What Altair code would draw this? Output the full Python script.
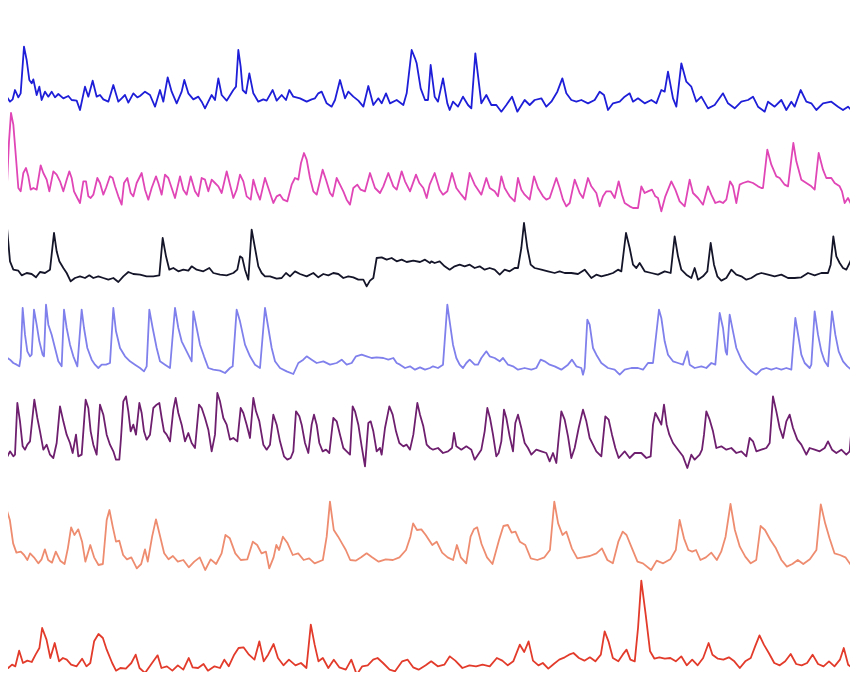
import altair as alt
import pandas as pd

# Seven fluorescence traces: (time in frames, signal above the trace's baseline)
cell1 = [(0,0),(10,25),(20,10),(30,-5),(38,2),(45,30),(55,8),(62,20),(72,160),(80,120),(88,60),(95,50),(100,62),(110,15),(118,40),(125,0),(135,25),(145,10),(155,25),(165,8),(175,18),(190,5),(205,12),(215,0),(230,-2),(240,-30),(255,40),(265,10),(278,58),(290,10),(300,15),(310,2),(325,-5),(340,45),(355,-5),(365,5),(375,15),(385,-8),(400,20),(412,8),(420,12),(435,25),(450,15),(465,-20),(480,30),(490,-5),(503,68),(515,25),(530,-10),(545,25),(553,60),(565,20),(580,2),(595,10),(605,-5),(615,-25),(625,-5),(635,15),(645,0),(655,65),(665,15),(680,-2),(700,30),(708,40),(715,150),(722,100),(728,30),(738,20),(748,80),(760,20),(775,-5),(790,2),(800,-2),(818,30),(830,-2),(845,15),(858,0),(868,30),(880,10),(900,5),(920,-5),(935,2),(945,5),(955,20),(965,25),(980,-10),(995,-20),(1005,0),(1020,60),(1035,5),(1045,25),(1060,10),(1075,-2),(1090,-20),(1105,42),(1120,-15),(1135,5),(1145,-10),(1158,20),(1170,-10),(1190,0),(1210,-15),(1220,20),(1235,150),(1245,125),(1250,110),(1262,35),(1275,0),(1284,0),(1292,105),(1304,10),(1314,-5),(1329,65),(1342,-10),(1349,-30),(1359,-5),(1374,-20),(1389,10),(1404,-15),(1414,-25),(1426,140),(1444,-10),(1459,15),(1474,-15),(1489,-15),(1504,-35),(1519,-15),(1536,10),(1552,-35),(1574,0),(1589,-15),(1604,0),(1624,5),(1639,-20),(1654,-5),(1672,25),(1687,65),(1699,20),(1714,0),(1729,-5),(1744,0),(1764,-10),(1784,0),(1799,25),(1812,15),(1824,-30),(1839,-10),(1859,-5),(1874,10),(1889,20),(1899,-5),(1914,5),(1934,-10),(1954,0),(1969,-10),(1984,30),(1994,25),(2004,85),(2019,5),(2029,-20),(2044,110),(2059,55),(2074,40),(2089,-5),(2104,10),(2124,-25),(2144,-15),(2169,20),(2184,-10),(2204,-25),(2224,-5),(2244,0),(2259,10),(2274,-20),(2294,-35),(2304,-5),(2324,-20),(2344,0),(2359,-30),(2374,-5),(2384,-20),(2402,30),(2419,-5),(2434,-10),(2449,-30),(2469,-10),(2494,-5),(2514,-20),(2529,-30),(2544,-20),(2559,-35),(2574,-20)]

cell2 = [(0,55),(10,40),(20,-10),(27,140),(33,225),(40,190),(48,90),(55,0),(62,-10),(70,45),(78,60),(85,35),(92,-5),(100,0),(110,-5),(122,68),(130,45),(140,25),(148,-10),(160,50),(170,40),(180,20),(190,-10),(200,25),(208,50),(215,30),(222,-10),(232,-30),(240,-45),(250,20),(258,20),(265,-25),(272,-30),(280,-20),(292,30),(300,15),(310,-20),(318,0),(330,35),(338,30),(345,5),(355,-25),(365,-50),(372,15),(382,30),(392,-15),(400,-25),(410,15),(425,45),(435,-5),(445,-35),(455,0),(468,35),(475,15),(485,-20),(495,40),(505,30),(515,0),(525,-30),(540,35),(550,-5),(560,-20),(572,35),(585,-10),(595,-25),(605,30),(615,25),(625,-10),(635,25),(645,15),(655,5),(665,-15),(680,50),(690,10),(700,-30),(710,-5),(720,40),(730,20),(740,-25),(752,-35),(760,25),(770,-10),(780,-35),(795,30),(805,0),(820,-45),(830,-25),(840,-20),(850,-35),(862,-40),(875,10),(885,30),(895,25),(903,75),(912,105),(920,85),(930,30),(940,-10),(950,-20),(968,55),(978,25),(990,-15),(998,-25),(1010,30),(1020,10),(1030,-10),(1040,-35),(1050,-50),(1060,0),(1072,10),(1082,-5),(1095,-10),(1110,45),(1125,0),(1140,-15),(1150,5),(1165,45),(1180,5),(1190,-5),(1205,50),(1215,20),(1230,-10),(1248,40),(1258,15),(1270,0),(1280,-30),(1289,10),(1304,45),(1319,-5),(1329,-20),(1342,-10),(1356,45),(1369,0),(1384,-20),(1396,-35),(1409,45),(1424,10),(1434,-5),(1444,-20),(1459,30),(1469,0),(1484,-10),(1494,-25),(1504,35),(1514,0),(1529,-25),(1544,-40),(1554,30),(1564,-5),(1574,-20),(1589,-35),(1602,35),(1614,0),(1629,-25),(1639,-35),(1649,-30),(1669,30),(1679,0),(1689,-35),(1699,-55),(1709,-45),(1724,25),(1739,-15),(1749,-30),(1764,30),(1774,5),(1789,-15),(1799,-55),(1809,-25),(1819,-10),(1832,-10),(1844,-30),(1856,20),(1866,-20),(1874,-45),(1889,-55),(1899,-60),(1914,-60),(1924,5),(1934,-15),(1944,-10),(1956,-5),(1966,-25),(1974,-30),(1984,-70),(1996,-25),(2014,20),(2026,-5),(2039,-40),(2054,-55),(2069,25),(2079,-15),(2094,-30),(2109,-50),(2124,5),(2134,-20),(2146,-45),(2159,-40),(2169,-45),(2179,-35),(2190,20),(2199,5),(2209,-45),(2219,10),(2229,15),(2244,20),(2259,15),(2274,5),(2284,0),(2289,0),(2302,115),(2314,70),(2329,35),(2339,30),(2354,10),(2364,5),(2372,70),(2380,135),(2389,80),(2404,25),(2419,15),(2434,5),(2444,-5),(2456,105),(2469,55),(2479,30),(2494,30),(2504,15),(2519,5),(2526,-10),(2534,-45),(2544,-30),(2554,-50),(2564,-55),(2570,120),(2574,125)]

cell3 = [(0,0),(8,5),(15,205),(22,125),(30,35),(40,10),(55,7),(65,-7),(80,0),(95,-3),(108,-13),(120,3),(135,0),(150,10),(162,120),(170,65),(178,35),(190,15),(200,0),(212,-25),(225,-15),(240,-10),(255,-15),(268,-7),(280,-15),(295,-10),(310,-15),(325,-20),(340,-15),(355,-27),(370,-10),(385,3),(400,-3),(420,-5),(440,-10),(460,-10),(478,-7),(488,105),(498,50),(508,10),(520,15),(535,5),(550,10),(565,7),(575,20),(590,10),(610,5),(628,15),(640,0),(660,-5),(680,-7),(700,0),(712,10),(720,50),(727,45),(735,10),(745,-20),(755,130),(765,75),(775,20),(785,0),(795,-10),(810,-10),(830,-17),(845,-15),(858,0),(870,-10),(885,5),(900,-3),(920,-10),(940,0),(955,-13),(970,-3),(985,-7),(1000,0),(1015,-3),(1030,-15),(1045,-10),(1060,-13),(1075,-20),(1090,-20),(1100,-40),(1110,-23),(1120,-15),(1130,45),(1145,47),(1160,40),(1175,45),(1190,35),(1205,40),(1220,33),(1240,37),(1260,33),(1275,40),(1290,30),(1294,35),(1304,30),(1319,35),(1334,20),(1349,10),(1364,20),(1379,25),(1394,20),(1409,25),(1424,15),(1439,20),(1454,10),(1469,15),(1484,10),(1499,-5),(1514,10),(1529,5),(1544,15),(1554,15),(1564,75),(1572,150),(1582,75),(1592,25),(1604,15),(1624,10),(1644,5),(1664,0),(1679,5),(1694,0),(1714,0),(1734,-3),(1754,10),(1774,-15),(1789,-5),(1804,-10),(1824,-5),(1839,0),(1854,10),(1864,5),(1878,120),(1889,75),(1899,25),(1909,15),(1919,30),(1934,5),(1954,0),(1974,-5),(1994,5),(2012,0),(2024,110),(2034,50),(2044,10),(2059,-5),(2074,-15),(2084,15),(2094,-20),(2109,-10),(2122,5),(2132,90),(2142,25),(2152,-10),(2164,-23),(2179,-15),(2194,10),(2209,-5),(2224,-10),(2239,-20),(2254,-15),(2269,-5),(2284,0),(2304,-5),(2324,-10),(2344,-5),(2364,-15),(2384,-15),(2404,-13),(2424,0),(2444,-7),(2464,0),(2484,0),(2492,25),(2500,110),(2509,50),(2519,30),(2529,15),(2539,10),(2549,30),(2559,55),(2566,40),(2574,35)]

cell4 = [(0,140),(5,115),(10,60),(15,40),(22,20),(30,15),(40,5),(50,0),(58,-5),(62,20),(68,170),(75,90),(82,40),(90,25),(95,30),(102,165),(110,120),(118,70),(128,30),(132,25),(138,180),(145,120),(155,90),(165,50),(175,10),(185,-5),(192,165),(200,110),(210,60),(220,25),(232,-5),(245,165),(252,110),(262,50),(275,15),(285,0),(295,-10),(305,0),(318,0),(330,5),(340,170),(348,100),(360,50),(375,25),(390,10),(405,0),(420,-10),(432,-20),(440,-5),(448,165),(458,110),(470,50),(480,10),(495,0),(510,-10),(525,170),(535,110),(545,70),(560,40),(575,10),(580,160),(590,110),(600,60),(612,25),(625,-10),(640,-15),(660,-18),(675,-25),(690,-10),(698,-5),(710,165),(720,130),(735,60),(750,25),(765,0),(780,-10),(795,170),(805,110),(815,50),(825,10),(840,-10),(860,-20),(880,-28),(895,5),(910,15),(920,25),(935,15),(950,5),(970,10),(990,0),(1010,5),(1025,15),(1040,0),(1055,5),(1068,25),(1085,30),(1100,25),(1115,20),(1130,22),(1150,20),(1165,15),(1180,20),(1190,5),(1200,0),(1215,-10),(1230,-5),(1245,-15),(1260,-8),(1275,-15),(1290,-10),(1299,-5),(1314,-10),(1329,0),(1342,180),(1349,130),(1359,60),(1369,20),(1379,0),(1389,-10),(1399,5),(1409,15),(1424,0),(1434,0),(1444,20),(1459,40),(1469,25),(1484,20),(1499,10),(1509,20),(1524,0),(1539,-5),(1554,-15),(1574,-10),(1594,-15),(1609,-10),(1622,15),(1634,10),(1649,0),(1664,-5),(1684,-15),(1704,0),(1716,15),(1729,-5),(1744,-10),(1749,-30),(1754,-10),(1762,135),(1769,120),(1779,50),(1789,30),(1804,5),(1824,-10),(1844,-15),(1859,-30),(1874,-15),(1894,-10),(1914,-10),(1929,-15),(1944,5),(1959,5),(1977,165),(1984,140),(1994,70),(2004,30),(2019,10),(2034,5),(2049,0),(2062,40),(2069,0),(2084,-10),(2104,-5),(2119,-10),(2134,5),(2146,0),(2159,155),(2169,110),(2177,40),(2181,30),(2189,150),(2199,100),(2209,50),(2224,15),(2239,-5),(2254,-20),(2269,-30),(2284,-15),(2299,-10),(2314,-15),(2329,-10),(2344,-15),(2359,-10),(2374,-15),(2386,140),(2396,80),(2404,30),(2414,5),(2429,-10),(2434,0),(2444,160),(2454,90),(2464,40),(2474,10),(2484,-5),(2496,160),(2506,90),(2516,40),(2529,10),(2542,-5),(2554,-15),(2564,0),(2574,15)]

cell5 = [(0,50),(5,15),(15,5),(20,-20),(30,0),(40,-15),(45,-10),(52,145),(60,90),(68,15),(75,5),(82,20),(90,30),(103,155),(112,100),(120,60),(130,5),(140,20),(150,-10),(160,-20),(170,25),(180,135),(190,90),(200,50),(210,25),(218,-5),(228,50),(235,-15),(245,-10),(257,155),(265,130),(272,60),(280,20),(290,-10),(300,140),(310,110),(320,50),(330,20),(340,0),(348,-25),(358,-25),(363,40),(370,150),(378,165),(385,120),(392,60),(400,80),(408,50),(418,145),(425,115),(432,60),(440,35),(450,50),(460,130),(470,140),(478,145),(485,100),(492,60),(500,50),(510,30),(520,125),(527,160),(535,115),(545,80),(555,30),(565,55),(575,25),(585,10),(597,140),(605,130),(615,100),(625,65),(635,0),(645,50),(652,175),(660,150),(670,100),(680,80),(690,35),(700,40),(712,30),(722,130),(730,115),(740,80),(750,40),(760,160),(768,120),(778,90),(790,20),(800,5),(810,20),(820,110),(830,80),(840,30),(852,-15),(862,-25),(872,-20),(880,0),(888,120),(898,105),(905,80),(915,25),(925,-5),(935,80),(942,110),(950,80),(958,25),(968,0),(978,5),(988,-5),(1000,100),(1010,90),(1020,50),(1030,10),(1040,0),(1050,-10),(1058,135),(1065,120),(1075,80),(1085,15),(1095,-45),(1105,85),(1112,90),(1120,60),(1130,0),(1140,10),(1145,-10),(1155,70),(1168,135),(1178,110),(1188,60),(1198,25),(1210,15),(1220,20),(1230,5),(1240,50),(1252,145),(1260,110),(1270,75),(1280,20),(1290,10),(1299,5),(1314,10),(1329,-5),(1344,0),(1356,10),(1362,55),(1369,15),(1384,5),(1399,15),(1414,5),(1424,-25),(1434,-10),(1444,5),(1454,60),(1462,130),(1470,100),(1479,50),(1489,-15),(1496,-5),(1504,30),(1512,125),(1519,100),(1529,45),(1539,0),(1546,85),(1554,110),(1564,70),(1574,25),(1584,10),(1594,-10),(1609,5),(1624,0),(1639,-5),(1649,-30),(1659,-5),(1669,-35),(1676,40),(1684,120),(1694,95),(1704,45),(1714,-20),(1724,10),(1736,70),(1749,125),(1759,90),(1769,40),(1779,20),(1789,0),(1804,-15),(1816,105),(1826,95),(1836,50),(1846,10),(1856,-20),(1874,0),(1889,-20),(1904,-5),(1924,-5),(1939,-20),(1952,-15),(1959,80),(1966,115),(1974,100),(1984,80),(1992,140),(2000,80),(2008,50),(2019,25),(2034,5),(2049,-15),(2062,-50),(2074,-10),(2084,-25),(2099,-10),(2106,5),(2112,50),(2119,120),(2129,95),(2139,60),(2149,10),(2164,15),(2179,5),(2194,10),(2209,-5),(2224,0),(2239,-15),(2249,40),(2259,30),(2269,0),(2284,5),(2299,10),(2309,25),(2319,165),(2329,120),(2339,70),(2349,40),(2359,90),(2369,110),(2379,70),(2392,35),(2404,20),(2419,-10),(2429,10),(2444,5),(2459,0),(2474,10),(2484,30),(2496,5),(2509,-5),(2524,5),(2539,-10),(2549,0),(2559,125),(2566,95),(2574,70)]

# cells 6 and 7 were sampled on a coarser clock (1568 samples per 2574 frames)
cell6 = [(0,-5),(5,75),(12,157),(18,125),(24,55),(30,27),(38,30),(44,20),(50,5),(55,25),(62,13),(70,-5),(76,7),(82,37),(88,5),(95,-3),(102,30),(110,3),(118,-7),(124,40),(130,103),(136,80),(143,97),(150,60),(156,0),(165,50),(172,13),(180,-10),(188,-7),(195,125),(200,155),(206,105),(212,60),(218,63),(225,20),(232,7),(240,13),(250,-20),(258,-7),(265,37),(270,0),(278,75),(285,127),(292,80),(300,25),(308,7),(316,17),(325,0),(335,5),(345,-17),(355,0),(365,13),(375,-25),(385,7),(395,-7),(405,25),(412,80),(420,70),(430,25),(440,5),(452,7),(462,60),(470,50),(478,25),(486,30),(492,-20),(500,13),(505,50),(510,35),(517,75),(525,57),(535,20),(545,25),(555,5),(565,10),(575,-5),(590,5),(597,75),(603,180),(610,95),(618,75),(625,55),(632,35),(640,5),(650,3),(660,13),(670,25),(680,13),(692,0),(705,7),(718,5),(730,13),(742,35),(750,75),(755,115),(762,95),(770,97),(778,80),(790,50),(798,60),(808,27),(818,13),(828,5),(835,50),(842,13),(852,-5),(860,75),(866,97),(872,103),(880,53),(890,13),(900,-7),(912,65),(920,107),(928,110),(935,87),(942,90),(950,60),(960,50),(970,10),(982,5),(995,13),(1005,35),(1013,180),(1020,115),(1028,80),(1035,90),(1045,40),(1055,10),(1065,13),(1078,17),(1090,25),(1100,40),(1110,5),(1120,-5),(1130,60),(1138,90),(1145,80),(1155,40),(1165,0),(1175,-5),(1190,-25),(1200,3),(1212,-5),(1225,7),(1235,35),(1242,125),(1250,70),(1258,35),(1265,30),(1272,35),(1280,5),(1290,13),(1300,27),(1310,5),(1318,30),(1326,75),(1335,173),(1343,95),(1352,45),(1362,15),(1372,-5),(1382,5),(1390,107),(1398,95),(1408,65),(1418,40),(1428,5),(1438,-15),(1448,-7),(1458,5),(1468,-7),(1480,7),(1492,35),(1500,172),(1508,115),(1516,70),(1525,25),(1535,20),(1545,13),(1555,-10),(1562,75),(1565,275),(1568,255)]

cell7 = [(0,-3),(8,4),(15,-8),(22,2),(28,-3),(35,44),(42,7),(50,14),(58,10),(65,32),(72,52),(77,112),(85,77),(92,22),(100,67),(108,12),(115,22),(122,17),(130,2),(140,-3),(150,20),(158,-3),(165,7),(172,72),(180,94),(188,82),(195,47),(205,7),(212,-16),(220,-8),(230,-10),(240,7),(248,32),(255,-8),(265,-23),(275,0),(288,30),(295,-8),(305,-3),(315,-16),(325,0),(335,-13),(345,22),(352,-6),(362,-8),(372,4),(380,-16),(392,-3),(402,-8),(410,17),(418,-3),(428,32),(436,52),(445,54),(455,32),(465,17),(474,72),(482,12),(490,32),(500,64),(508,22),(518,0),(528,17),(540,0),(550,7),(560,-8),(568,122),(575,62),(582,12),(590,22),(600,-8),(610,17),(620,-6),(632,-13),(642,17),(652,-28),(662,-3),(672,0),(682,17),(690,22),(700,7),(712,-13),(722,-18),(735,12),(745,17),(755,-6),(765,-13),(778,0),(788,12),(800,-3),(812,2),(822,27),(832,14),(845,-8),(858,0),(870,-3),(882,2),(895,-3),(908,22),(918,14),(928,0),(938,12),(950,62),(958,40),(966,72),(974,14),(984,0),(992,7),(1002,-10),(1012,4),(1022,17),(1032,24),(1040,32),(1048,37),(1058,22),(1068,14),(1078,24),(1088,12),(1098,32),(1105,102),(1112,72),(1120,22),(1130,12),(1138,32),(1145,47),(1152,17),(1160,12),(1166,112),(1172,254),(1180,152),(1188,42),(1196,20),(1205,24),(1215,20),(1225,22),(1235,12),(1245,27),(1255,0),(1265,17),(1275,0),(1285,22),(1295,67),(1302,32),(1312,20),(1322,17),(1332,24),(1342,12),(1352,-8),(1362,12),(1372,22),(1380,57),(1388,90),(1396,62),(1405,37),(1415,7),(1425,0),(1435,12),(1445,34),(1455,4),(1465,0),(1475,7),(1485,32),(1495,4),(1505,-3),(1515,12),(1525,-3),(1535,17),(1542,52),(1550,2),(1558,-8),(1568,7)]

names = ["cell 1", "cell 2", "cell 3", "cell 4", "cell 5", "cell 6", "cell 7"]
traces = [cell1, cell2, cell3, cell4, cell5, cell6, cell7]
clock = [1.0, 1.0, 1.0, 1.0, 1.0, 2574 / 1568, 2574 / 1568]
offsets = [1716, 1452, 1197, 922, 662, 331, 20]
colors = ["#1e1ed8", "#e046b6", "#15152a", "#8080ec", "#6e1f6e", "#ee8c70", "#e33b2b"]

rows = []
for name, tr, k, off in zip(names, traces, clock, offsets):
    for t, v in tr:
        rows.append({"cell": name, "t": t * k, "signal": v, "y": v + off})
df = pd.DataFrame(rows)

chart = (
    alt.Chart(df)
    .mark_line(strokeWidth=1.8, clip=True, strokeJoin="round")
    .encode(
        x=alt.X("t:Q", axis=None, scale=alt.Scale(domain=[24, 2550], nice=False, zero=False)),
        y=alt.Y("y:Q", axis=None, scale=alt.Scale(domain=[0, 1992], nice=False, zero=False)),
        color=alt.Color("cell:N", legend=None,
                        scale=alt.Scale(domain=names, range=colors)),
        order="t:Q",
    )
    .properties(width=842, height=664, padding=0, background="white",
                autosize=alt.AutoSizeParams(type="none"))
    .configure_view(strokeWidth=0, stroke="transparent")
)

chart.save("out.html", embed_options={"renderer": "svg", "actions": False})
